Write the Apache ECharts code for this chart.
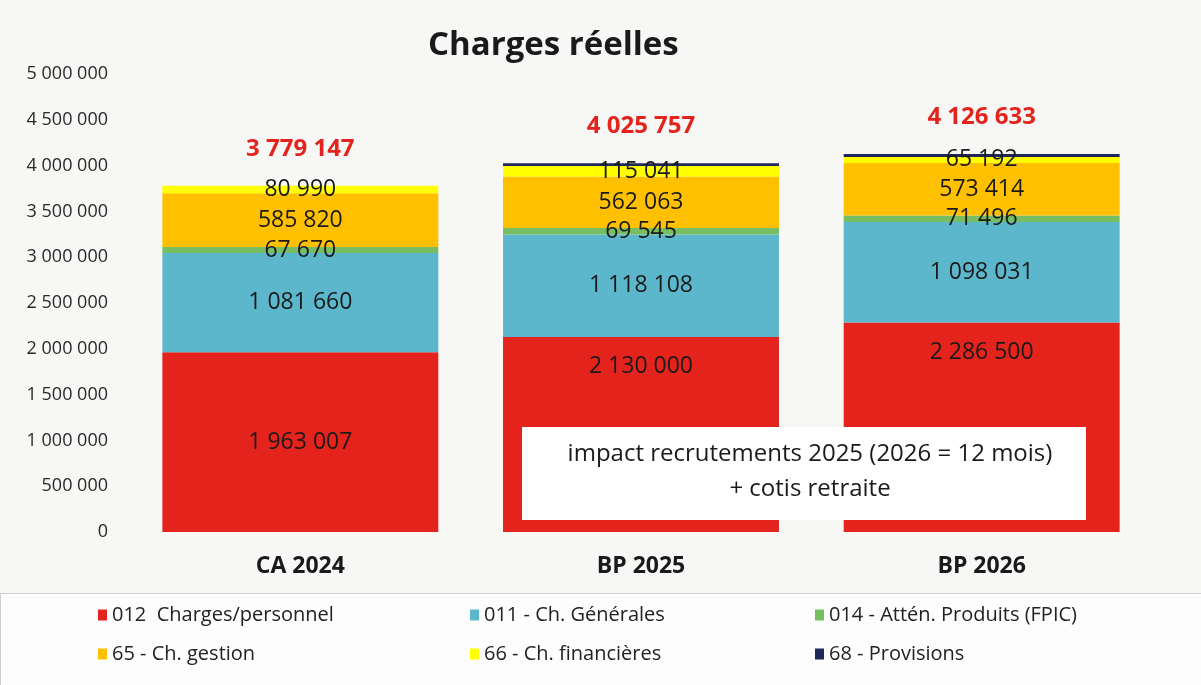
<!DOCTYPE html>
<html lang="fr">
<head>
  <meta charset="UTF-8">
  <title>Charges réelles</title>
  <style>
    html, body { height: 100%; width: 100%; margin: 0; padding: 0; }
  </style>
  <script src="https://cdn.jsdelivr.net/npm/echarts@6/dist/echarts.min.js"></script>
</head>
<body>
<div id="main" style="width: 100%; height: 100%;"></div>
<script>
  var categories = ['CA 2024', 'BP 2025', 'BP 2026'];
  var seriesNames = ['012  Charges/personnel', '011 - Ch. Générales', '014 - Attén. Produits (FPIC)',
                     '65 - Ch. gestion', '66 - Ch. financières', '68 - Provisions'];
  var personnel   = [1963007, 2130000, 2286500];
  var generales   = [1081660, 1118108, 1098031];
  var attenuation = [67670, 69545, 71496];
  var gestion     = [585820, 562063, 573414];
  var financieres = [80990, 115041, 65192];
  var provisions  = [0, 31000, 32000];
  var totals      = [3779147, 4025757, 4126633];

  var colors = ['#e5231d', '#5db7cc', '#77bd62', '#ffc000', '#ffff00', '#1f2859'];
  var values = [personnel, generales, attenuation, gestion, financieres, provisions];
  var showLabels = [true, true, true, true, true, false];

  function fmt(v) {
    return String(v).replace(/\B(?=(\d{3})+(?!\d))/g, ' ');
  }

  var chart = echarts.init(document.getElementById('main'));

  var series = values.map(function (data, i) {
    return {
      name: seriesNames[i],
      type: 'bar',
      stack: 'total',
      barWidth: '81%',
      data: data.map(function (v, j) {
        // the personnel labels of the BP years sit above the annotation box
        if (i === 0 && j > 0) {
          return { value: v, label: { position: 'insideTop', distance: 18 } };
        }
        return v;
      }),
      itemStyle: { color: colors[i] },
      label: {
        show: showLabels[i],
        position: 'inside',
        color: '#1a1a1a',
        fontSize: 23,
        fontFamily: 'Open Sans',
        formatter: function (p) { return fmt(p.value); }
      }
    };
  });

  series.push({
    name: 'Total',
    type: 'scatter',
    data: totals,
    symbolSize: 0,
    silent: true,
    itemStyle: { opacity: 1, color: '#e5231d' },
    label: {
      show: true,
      position: 'top',
      distance: 25,
      color: '#e5231d',
      fontWeight: 'bold',
      fontSize: 24,
      fontFamily: 'Open Sans',
      formatter: function (p) { return fmt(p.value); }
    }
  });

  var legendText = { fontSize: 20, color: '#222', fontFamily: 'Open Sans' };
  function legendCol(left, names) {
    return {
      orient: 'vertical', left: left, top: 600, itemGap: 19,
      itemWidth: 9, itemHeight: 11, icon: 'rect',
      textStyle: legendText, itemStyle: { borderWidth: 0 },
      data: names
    };
  }

  var option = {
    backgroundColor: '#f7f7f5',
    animation: false,
    title: {
      text: 'Charges réelles',
      left: 423, top: 24,
      textStyle: { fontSize: 33, fontWeight: 'bold', color: '#1a1a1a', fontFamily: 'Open Sans' }
    },
    graphic: [
      {
        type: 'rect', left: 0, top: 593, z: -1,
        shape: { width: 1201, height: 92 },
        style: { fill: '#fdfdfd', stroke: '#cfcfcf', lineWidth: 1 }
      },
      {
        type: 'rect', left: 522, top: 427, z: 100,
        shape: { width: 564, height: 93 },
        style: { fill: '#ffffff' }
      },
      {
        type: 'text', z: 101,
        style: {
          text: 'impact recrutements 2025 (2026 = 12 mois)\n+ cotis retraite',
          x: 810, y: 437,
          textAlign: 'center',
          fontSize: 24, lineHeight: 35, fill: '#1a1a1a', fontFamily: 'Open Sans'
        }
      }
    ],
    legend: [
      legendCol(93, [seriesNames[0], seriesNames[3]]),
      legendCol(465, [seriesNames[1], seriesNames[4]]),
      legendCol(810, [seriesNames[2], seriesNames[5]])
    ],
    grid: { left: 130, right: 49, top: 74, bottom: 153 },
    xAxis: {
      type: 'category',
      data: categories,
      axisLine: { show: false },
      axisTick: { show: false },
      axisLabel: {
        margin: 23, fontSize: 23, fontWeight: 'bold', color: '#1a1a1a', fontFamily: 'Open Sans'
      }
    },
    yAxis: {
      type: 'value',
      min: 0, max: 5000000, interval: 500000,
      axisLine: { show: false },
      axisTick: { show: false },
      splitLine: { show: false },
      axisLabel: {
        margin: 22, fontSize: 18, color: '#2a2a2a', fontFamily: 'Open Sans',
        formatter: function (v) { return fmt(v); }
      }
    },
    series: series
  };

  chart.setOption(option);
</script>
</body>
</html>
